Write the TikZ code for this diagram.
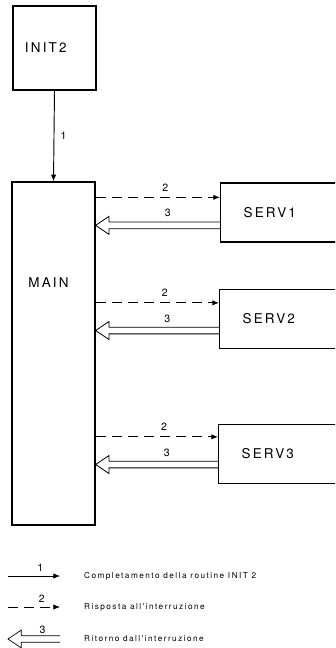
\documentclass[tikz,border=0pt]{standalone}
\usepackage{fontspec}
\setmainfont{TeX Gyre Heros}
\newfontfamily\boxfont[LetterSpace=16]{TeX Gyre Heros}
\newfontfamily\legendfont[LetterSpace=18]{TeX Gyre Heros}
\usetikzlibrary{arrows.meta,positioning}

\begin{document}
\begin{tikzpicture}[x=0.03cm, y=-0.03cm,
    box/.style={rectangle, draw=black, line width=1.1pt, minimum width=2.49cm, align=left, font=\boxfont\fontsize{11.5}{13}\selectfont},
    serv/.style={box, anchor=west, minimum height=1.77cm, text width=2.52cm, inner xsep=0.69cm},
    title/.style={font=\boxfont\fontsize{11.5}{13}\selectfont},
    num/.style={font=\fontsize{9}{10}\selectfont, inner sep=1pt},
    legend/.style={anchor=west, font=\legendfont\fontsize{7}{8}\selectfont},
    call/.style={line width=0.8pt, -{Latex[length=2mm, width=1.6mm]}},
    irq/.style={line width=0.8pt, dash pattern=on 3mm off 1.8mm, -{Latex[length=2mm, width=1.6mm]}},
    ret/.style={line width=0.7pt, line join=miter, to path={
        ([yshift=0.1cm]\tikztostart) -- ([xshift=0.4cm, yshift=0.1cm]\tikztotarget) \tikztonodes
        -- ([xshift=0.4cm, yshift=0.27cm]\tikztotarget) -- (\tikztotarget)
        -- ([xshift=0.4cm, yshift=-0.27cm]\tikztotarget) -- ([xshift=0.4cm, yshift=-0.1cm]\tikztotarget)
        -- ([yshift=-0.1cm]\tikztostart)}}]

\useasboundingbox (0,0) rectangle (335,648);
\clip (0,0) rectangle (335,648);

% Routines
\node[box, minimum height=2.52cm, text width=1.77cm, inner xsep=0.36cm] (init2) at (54.5,48) {INIT2};
\node[box, minimum height=10.29cm] (main) at (53.5,353.5) {};
\node[title] (main_txt) at (48.5,283) {MAIN};
\node[serv] (serv1) at (220,212.5) {SERV1};
\node[serv] (serv2) at (219,319) {SERV2};
\node[serv] (serv3) at (218,454) {SERV3};

% Attach points on the service routines
\coordinate (s1a) at ([yshift=-0.45cm]serv1.north west);
\coordinate (s1b) at ([yshift=-1.29cm]serv1.north west);
\coordinate (s2a) at ([yshift=-0.42cm]serv2.north west);
\coordinate (s2b) at ([yshift=-1.25cm]serv2.north west);
\coordinate (s3a) at ([yshift=-0.39cm]serv3.north west);
\coordinate (s3b) at ([yshift=-1.22cm]serv3.north west);

% Connections
\draw[call] (init2.south) -- (main.north) node[num, midway, right=0.15cm] {1};

\draw[irq] (main.east |- s1a) -- (s1a) node[num, pos=0.56, above=0.13cm] {2};
\draw[ret] (s1b) to node[num, pos=0.47, above=0.1cm] {3} (main.east |- s1b);
\draw[irq] (main.east |- s2a) -- (s2a) node[num, pos=0.56, above=0.13cm] {2};
\draw[ret] (s2b) to node[num, pos=0.47, above=0.1cm] {3} (main.east |- s2b);
\draw[irq] (main.east |- s3a) -- (s3a) node[num, pos=0.56, above=0.13cm] {2};
\draw[ret] (s3b) to node[num, pos=0.47, above=0.1cm] {3} (main.east |- s3b);

% Legend
\coordinate (leg1a) at (8,576);
\coordinate (leg1b) at (60,576);
\coordinate (leg2a) at (8,607);
\coordinate (leg2b) at (60,607);
\coordinate (leg3a) at (60,639);
\coordinate (leg3b) at (8,639);

\draw[call, line width=0.6pt] (leg1a) -- (leg1b) node[num, pos=0.62, above=0.1cm] {1};
\draw[irq, line width=0.6pt] (leg2a) -- (leg2b) node[num, pos=0.65, above=0.1cm] {2};
\draw[ret, line width=0.6pt] (leg3a) to node[num, pos=0.45, above=0.02cm] {3} (leg3b);

\node[legend, right=0.6cm of leg1b] (leg1_txt) {Completamento della routine INIT 2};
\node[legend, right=0.6cm of leg2b] (leg2_txt) {Risposta all'interruzione};
\node[legend, right=0.6cm of leg3a] (leg3_txt) {Ritorno dall'interruzione};

\end{tikzpicture}
\end{document}
